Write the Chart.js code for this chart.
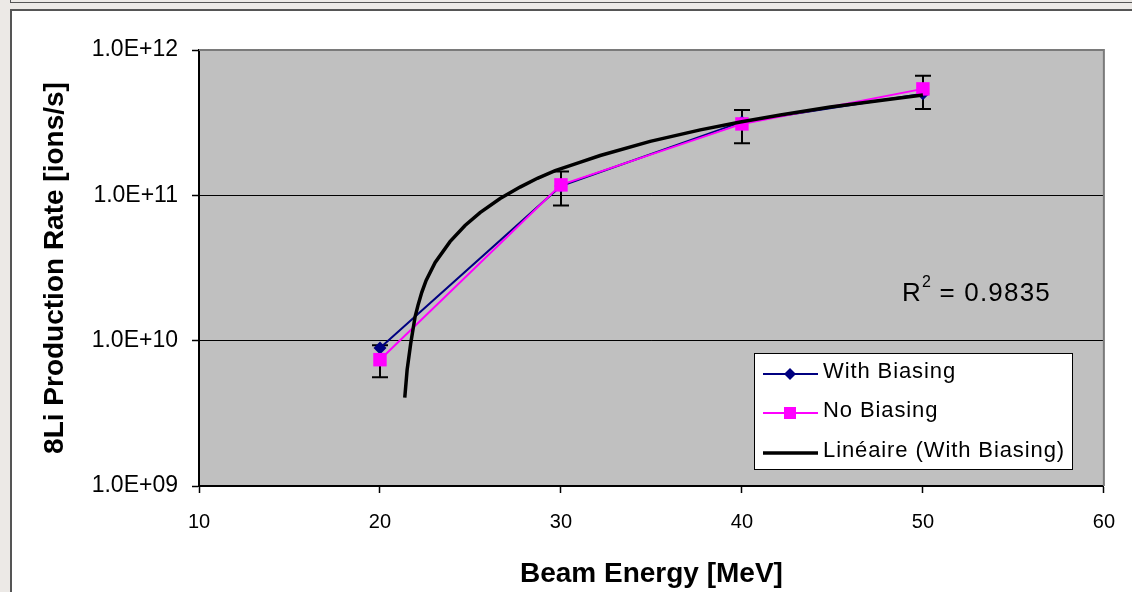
<!DOCTYPE html>
<html><head><meta charset="utf-8">
<script src="https://cdn.jsdelivr.net/npm/chart.js@4/dist/chart.umd.min.js"></script>
<style>
html,body{margin:0;padding:0;width:1132px;height:592px;overflow:hidden;background:#ECE9E6;}
#topbox{position:absolute;left:10px;top:-30px;width:1200px;height:31px;border:1px solid #555;background:#ECE9E6;}
#frame{position:absolute;left:10px;top:9px;width:1200px;height:700px;border:2px solid #555;background:#fff;}
#c{position:absolute;left:0;top:0;width:1132px;height:592px;}
</style></head>
<body>
<div id="topbox"></div>
<div id="frame"></div>
<canvas id="c" width="1132" height="592"></canvas>
<script>
// ---- data ----
const energy = [20, 30, 40, 50];                       // MeV
const withBiasing = [8.9e9, 1.16e11, 3.2e11, 5.0e11];  // ions/s
const noBiasing = [7.4e9, 1.18e11, 3.1e11, 5.4e11];    // ions/s
const errHigh = [9.3e9, 1.46e11, 3.87e11, 6.66e11];    // error bar tops (No Biasing)
const errLow = [5.6e9, 8.5e10, 2.28e11, 3.93e11];      // error bar bottoms
const trendEnergy = [21.37, 21.5, 21.7, 21.94, 22.1, 22.31, 22.55, 23.05, 23.87, 24.7, 25.53, 26.64, 27.74, 28.7, 29.68, 31.0, 32.17, 34.93, 37.7, 39.91, 42.12, 44.88, 47.64, 50.0];
const trendRate = [4.05e9, 6.3e9, 9.6e9, 1.46e10, 1.75e10, 2.15e10, 2.6e10, 3.45e10, 4.8e10, 6.2e10, 7.6e10, 9.5e10, 1.14e11, 1.31e11, 1.48e11, 1.68e11, 1.88e11, 2.35e11, 2.82e11, 3.2e11, 3.57e11, 4.05e11, 4.5e11, 4.9e11];
const xTickValues = [10, 20, 30, 40, 50, 60];
const yTickValues = [1e9, 1e10, 1e11, 1e12];
const yTickLabels = ['1.0E+09', '1.0E+10', '1.0E+11', '1.0E+12'];
const seriesLabels = ['With Biasing', 'No Biasing', 'Linéaire (With Biasing)'];
const xTitle = 'Beam Energy [MeV]';
const yTitle = '8Li Production Rate [ions/s]';
const rSquaredText = '0.9835';

const FONT = '"Liberation Sans", Arial, sans-serif';

const plotBg = {
  id: 'plotBg',
  beforeDraw(chart) {
    const {ctx, chartArea: a} = chart;
    ctx.save();
    ctx.fillStyle = '#C0C0C0';
    ctx.fillRect(a.left, a.top, a.right - a.left, a.bottom - a.top);
    ctx.restore();
  }
};

const errorBars = {
  id: 'errorBars',
  beforeDatasetsDraw(chart) {
    const {ctx, scales: {x, y}, chartArea: a} = chart;
    ctx.save();
    ctx.strokeStyle = '#7a7a7a';
    ctx.lineWidth = 2;
    ctx.beginPath();
    ctx.moveTo(a.left, a.top); ctx.lineTo(a.right, a.top); ctx.lineTo(a.right, a.bottom);
    ctx.stroke();
    ctx.strokeStyle = '#000';
    ctx.lineWidth = 2;
    energy.forEach((e, i) => {
      const px = Math.round(x.getPixelForValue(e));
      const y1 = y.getPixelForValue(errHigh[i]);
      const y2 = y.getPixelForValue(errLow[i]);
      ctx.beginPath();
      ctx.moveTo(px, y1); ctx.lineTo(px, y2);
      ctx.moveTo(px - 8, y1); ctx.lineTo(px + 8, y1);
      ctx.moveTo(px - 8, y2); ctx.lineTo(px + 8, y2);
      ctx.stroke();
    });
    ctx.restore();
  }
};

const boxLegend = {
  id: 'boxLegend',
  afterDraw(chart) {
    const ctx = chart.ctx;
    const ds = chart.data.datasets;
    ctx.save();
    ctx.fillStyle = '#fff';
    ctx.fillRect(754, 353, 318, 116);
    ctx.strokeStyle = '#000';
    ctx.lineWidth = 1;
    ctx.strokeRect(754.5, 353.5, 318, 116);
    const rows = [374, 413, 453];
    ds.forEach((d, i) => {
      const yy = rows[i];
      ctx.strokeStyle = d.borderColor;
      ctx.lineWidth = d.borderWidth;
      ctx.beginPath(); ctx.moveTo(763, yy); ctx.lineTo(818, yy); ctx.stroke();
      if (d.pointRadius > 0) {
        ctx.fillStyle = d.backgroundColor;
        ctx.beginPath();
        if (d.pointStyle === 'rect') {
          ctx.rect(784, yy - 6, 12, 12);
        } else {
          ctx.moveTo(790, yy - 6); ctx.lineTo(796, yy); ctx.lineTo(790, yy + 6); ctx.lineTo(784, yy); ctx.closePath();
        }
        ctx.fill();
      }
      ctx.fillStyle = '#000';
      ctx.font = '22px ' + FONT;
      ctx.letterSpacing = '0.9px';
      ctx.textBaseline = 'middle';
      ctx.textAlign = 'left';
      ctx.fillText(d.label, 823, yy - 2);
    });
    // R² annotation
    ctx.letterSpacing = '0px';
    ctx.textBaseline = 'alphabetic';
    ctx.font = '26px ' + FONT;
    ctx.fillText('R', 902, 301);
    ctx.font = '16px ' + FONT;
    ctx.fillText('2', 922, 287);
    ctx.font = '26px ' + FONT;
    ctx.letterSpacing = '1.2px';
    ctx.fillText(' = ' + rSquaredText, 931, 301);
    ctx.restore();
  }
};

new Chart(document.getElementById('c'), {
  type: 'line',
  data: {
    datasets: [
      {label: seriesLabels[0], data: energy.map((e, i) => ({x: e, y: withBiasing[i]})),
       borderColor: '#000080', backgroundColor: '#000080', borderWidth: 2,
       pointStyle: 'rectRot', pointRadius: 6.5, pointBorderWidth: 0, order: 2},
      {label: seriesLabels[1], data: energy.map((e, i) => ({x: e, y: noBiasing[i]})),
       borderColor: '#FF00FF', backgroundColor: '#FF00FF', borderWidth: 2,
       pointStyle: 'rect', pointRadius: 9.5, pointBorderWidth: 0, order: 1},
      {label: seriesLabels[2], data: trendEnergy.map((e, i) => ({x: e, y: trendRate[i]})),
       borderColor: '#000', backgroundColor: '#000', borderWidth: 3.5,
       pointRadius: 0, order: 0}
    ]
  },
  options: {
    responsive: false,
    devicePixelRatio: 1,
    animation: false,
    events: [],
    layout: {padding: {top: 50, right: 28, left: 0, bottom: 0}},
    plugins: {legend: {display: false}, tooltip: {enabled: false}, title: {display: false}},
    elements: {line: {tension: 0}},
    scales: {
      x: {
        type: 'linear', min: 10, max: 60,
        afterBuildTicks: s => { s.ticks = xTickValues.map(v => ({value: v})); },
        afterFit: s => { s.height = 106; },
        grid: {drawOnChartArea: false, tickLength: 7, tickColor: '#000', tickWidth: 1.5},
        border: {color: '#000', width: 2},
        ticks: {font: {family: FONT, size: 20}, color: '#000', padding: 17, maxRotation: 0, autoSkip: false,
                callback: v => String(v)},
        title: {display: true, text: xTitle, color: '#000',
                font: {family: FONT, size: 28, weight: 'bold'}, padding: {top: 0, bottom: 1}}
      },
      y: {
        type: 'logarithmic', min: 1e9, max: 1e12,
        afterBuildTicks: s => { s.ticks = yTickValues.map(v => ({value: v})); },
        afterFit: s => { s.width = 199; },
        grid: {
          color: c => (c.index > 0 && c.index < yTickValues.length - 1) ? '#000' : 'rgba(0,0,0,0)',
          lineWidth: 1, tickLength: 7, tickColor: '#000', tickWidth: 1.5
        },
        border: {color: '#000', width: 2},
        ticks: {font: {family: FONT, size: 23}, color: '#000', padding: 14, autoSkip: false,
                callback: (v, i) => yTickLabels[i]},
        title: {display: true, text: yTitle, color: '#000',
                font: {family: FONT, size: 28, weight: 'bold'}, padding: {top: 38, bottom: 0}}
      }
    }
  },
  plugins: [plotBg, errorBars, boxLegend]
});
</script>
</body></html>
